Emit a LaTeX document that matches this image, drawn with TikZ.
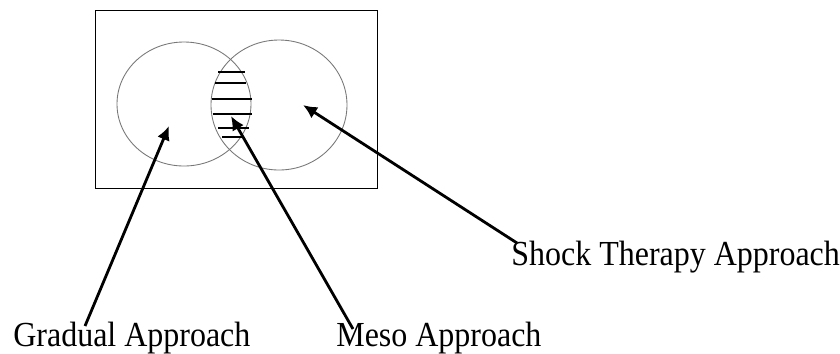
\documentclass[tikz,border=0pt]{standalone}
\usepackage{fontspec}
\setmainfont{Liberation Serif}
\usepackage{graphicx}
\usepackage{xcolor}
\usetikzlibrary{arrows.meta,calc}
\definecolor{figline}{RGB}{0,0,0}
\definecolor{figring}{RGB}{120,120,120}
\newcommand{\tallbox}[1]{\scalebox{1}[1.1]{#1}}
\tikzset{
  frm/.style  ={draw=figline, line width=0.5pt},
  ring/.style ={draw=figring, line width=0.5pt},
  hatch/.style={draw=figline, line width=0.85pt},
  lab/.style  ={font=\fontsize{18.2}{20}\selectfont, inner sep=0pt, anchor=base west},
  ptr/.style  ={draw=figline, line width=1.6pt, -{Latex[length=8pt,width=7.5pt]}},
}

\begin{document}
\begin{tikzpicture}[x=0.02cm,y=-0.02cm]
  \useasboundingbox (0,0) rectangle (840,353);
  % frame and the two sets
  \draw[frm] (95,10) rectangle (377,188);
  \draw[ring] (184,104) ellipse [x radius=67, y radius=62];
  \draw[ring] (279,105) ellipse [x radius=68, y radius=65];
  % hatching of the overlap
  \foreach \y/\xa/\xb in {72/218/245, 83/215/246, 99/212/252, 114/213/252, 128/218/249, 137/222/242}
    \draw[hatch] (\xa,\y) -- (\xb,\y);
  % labels
  \node[lab] (grad)  at (13,346)  {\tallbox{Gradual Approach}};
  \node[lab] (meso)  at (336,346) {\tallbox{Meso Approach}};
  \node[lab] (shock) at (511,265) {\tallbox{Shock Therapy Approach}};
  \coordinate (gradpt)  at (169,126);
  \coordinate (mesopt)  at (231,116);
  \coordinate (shockpt) at (303,105);
  \draw[ptr] ($(grad.base west)+(72,-20)$) -- (gradpt);
  \draw[ptr] ($(meso.base west)+(17,-17)$) -- (mesopt);
  \draw[ptr] ($(shock.base west)+(6,-22)$) -- (shockpt);
\end{tikzpicture}
\end{document}
